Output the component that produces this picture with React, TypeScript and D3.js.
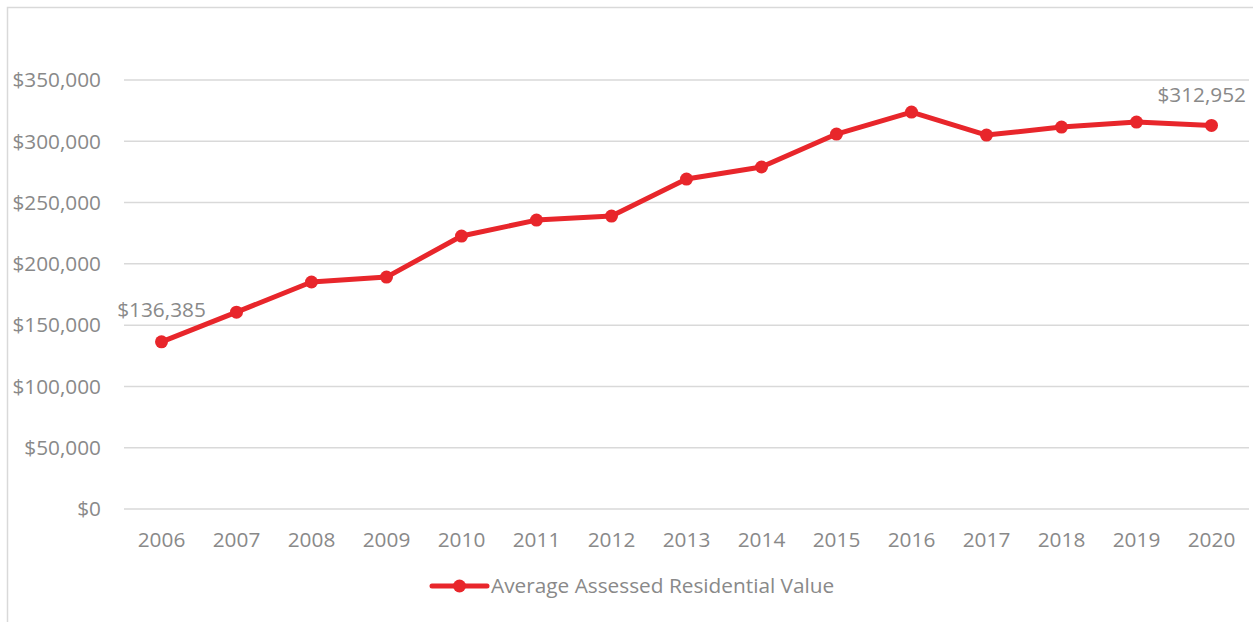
import { useEffect, useRef } from "react";
import * as d3 from "d3";

const W = 1253;
const H = 622;
const MARGIN = { top: 80, right: 4, bottom: 113, left: 124 };

const years = ["2006", "2007", "2008", "2009", "2010", "2011", "2012", "2013", "2014", "2015", "2016", "2017", "2018", "2019", "2020"];
const values = [136385, 160600, 185200, 189200, 222700, 235700, 239000, 269200, 279000, 305900, 323800, 305100, 311600, 315700, 312952];
const yTicks = [0, 50000, 100000, 150000, 200000, 250000, 300000, 350000];
const seriesName = "Average Assessed Residential Value";

const RED = "#e8262b";
const GRAY = "#898989";
const FONT = "'Open Sans', sans-serif";
const FS = 20.8;

export default function App() {
  const ref = useRef<SVGSVGElement>(null);

  useEffect(() => {
    const svg = d3.select(ref.current);
    svg.selectAll("*").remove();

    const bw = W - MARGIN.left - MARGIN.right;
    const bh = H - MARGIN.top - MARGIN.bottom;

    const x = d3.scaleBand<string>().domain(years).range([0, bw]);
    const y = d3.scaleLinear().domain([0, 350000]).range([bh, 0]);
    const cx = (d: string) => (x(d) || 0) + x.bandwidth() / 2;
    const fmt = (v: number) => "$" + d3.format(",")(v);

    // chart frame
    svg.append("rect")
      .attr("x", 7.5).attr("y", 7.5)
      .attr("width", W).attr("height", H)
      .attr("fill", "#fff").attr("stroke", "#d9d9d9").attr("stroke-width", 1.5);

    const g = svg.append("g").attr("transform", `translate(${MARGIN.left},${MARGIN.top})`);

    // gridlines + y labels
    g.selectAll(".grid").data(yTicks).join("line")
      .attr("x1", 0).attr("x2", bw)
      .attr("y1", (d) => y(d)).attr("y2", (d) => y(d))
      .attr("stroke", "#d9d9d9").attr("stroke-width", 1.5);

    g.selectAll(".ylab").data(yTicks).join("text")
      .attr("x", -23).attr("y", (d) => y(d)).attr("dy", "0.35em")
      .attr("text-anchor", "end")
      .attr("font-family", FONT).attr("font-size", FS).attr("fill", GRAY)
      .text(fmt);

    // x labels
    g.selectAll(".xlab").data(years).join("text")
      .attr("x", cx).attr("y", bh + 31).attr("dy", "0.35em")
      .attr("text-anchor", "middle")
      .attr("font-family", FONT).attr("font-size", FS).attr("fill", GRAY)
      .text((d) => d);

    // line
    const line = d3.line<number>()
      .x((_, i) => cx(years[i]))
      .y((d) => y(d));
    g.append("path")
      .attr("d", line(values) || "")
      .attr("fill", "none").attr("stroke", RED).attr("stroke-width", 5)
      .attr("stroke-linejoin", "round").attr("stroke-linecap", "round");

    g.selectAll(".pt").data(values).join("circle")
      .attr("cx", (_, i) => cx(years[i])).attr("cy", (d) => y(d))
      .attr("r", 6.5).attr("fill", RED);

    // data labels
    const first = values[0];
    const last = values[values.length - 1];
    g.append("text")
      .attr("x", cx(years[0])).attr("y", y(first) - 32).attr("dy", "0.35em")
      .attr("text-anchor", "middle")
      .attr("font-family", FONT).attr("font-size", FS).attr("fill", GRAY)
      .text(fmt(first));
    g.append("text")
      .attr("x", bw - 3).attr("y", y(last) - 31).attr("dy", "0.35em")
      .attr("text-anchor", "end")
      .attr("font-family", FONT).attr("font-size", FS).attr("fill", GRAY)
      .text(fmt(last));

    // legend
    const lg = svg.append("g").attr("transform", "translate(432,586)");
    lg.append("line").attr("x1", 0).attr("x2", 55).attr("y1", 0).attr("y2", 0)
      .attr("stroke", RED).attr("stroke-width", 5).attr("stroke-linecap", "round");
    lg.append("circle").attr("cx", 27.5).attr("cy", 0).attr("r", 6.5).attr("fill", RED);
    lg.append("text").attr("x", 59).attr("y", 0).attr("dy", "0.35em")
      .attr("font-family", FONT).attr("font-size", FS).attr("fill", GRAY)
      .text(seriesName);
  }, []);

  return (
    <svg ref={ref} width={W} height={H} style={{ position: "absolute", left: 0, top: 0 }} />
  );
}
